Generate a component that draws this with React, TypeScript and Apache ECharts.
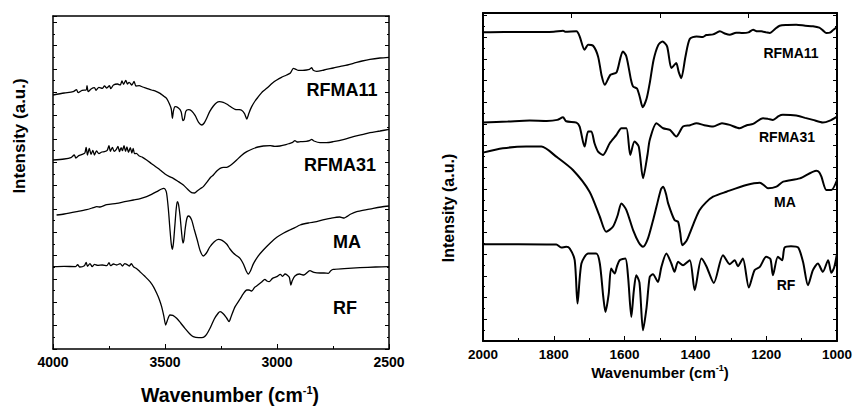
import React, { useEffect, useRef } from "react";
import * as echarts from "echarts";

// ---------- Data (wavenumber, intensity a.u.) ----------
const leftLabels = ["RFMA11", "RFMA31", "MA", "RF"];
const rightLabels = ["RFMA11", "RFMA31", "MA", "RF"];

const leftRFMA11: number[][] = [
  [4000, 76.2], [3950, 76.8], [3910, 77.2], [3895, 77.8], [3888, 76.9], [3870, 77.6], [3852, 77.7], [3848, 79.0],
  [3843, 77.2], [3830, 78.0], [3815, 78.4], [3808, 77.6], [3795, 78.5], [3780, 78.2], [3770, 78.9], [3760, 78.3],
  [3748, 79.0], [3742, 78.1], [3730, 79.2], [3712, 79.5], [3700, 79.2], [3692, 80.4], [3685, 79.4], [3675, 80.6],
  [3668, 79.5], [3660, 80.0], [3648, 79.2], [3638, 80.3], [3630, 78.9], [3615, 79.0], [3600, 78.6], [3582, 78.2],
  [3560, 77.7], [3540, 77.3], [3522, 76.7], [3505, 75.8], [3493, 75.2], [3480, 73.5], [3472, 72.0], [3467, 69.2],
  [3462, 71.5], [3455, 72.7], [3440, 72.3], [3428, 71.2], [3420, 68.5], [3414, 69.0], [3407, 71.3], [3395, 71.8],
  [3381, 71.4], [3365, 70.0], [3350, 68.0], [3336, 67.2], [3325, 67.8], [3314, 69.2], [3300, 71.3], [3284, 72.9],
  [3270, 73.9], [3257, 74.2], [3240, 74.0], [3225, 73.5], [3205, 72.6], [3187, 71.9], [3170, 71.8], [3158, 71.6],
  [3145, 70.6], [3135, 69.0], [3125, 70.8], [3113, 72.7], [3098, 74.4], [3083, 75.7], [3065, 77.2], [3046, 78.2],
  [3020, 79.8], [3001, 80.7], [2980, 81.5], [2957, 82.2], [2940, 82.8], [2927, 84.2], [2915, 83.9], [2905, 83.6],
  [2885, 83.6], [2868, 83.7], [2855, 83.9], [2845, 84.4], [2838, 83.6], [2823, 83.3], [2790, 83.7], [2749, 84.3],
  [2700, 85.0], [2659, 85.7], [2620, 86.4], [2585, 86.9], [2540, 87.3], [2500, 87.5],
];

const leftRFMA31: number[][] = [
  [4000, 56.7], [3950, 57.0], [3920, 57.4], [3905, 58.2], [3898, 57.3], [3885, 58.0], [3870, 58.4], [3858, 58.8],
  [3852, 60.5], [3846, 58.2], [3838, 60.2], [3830, 58.4], [3822, 59.6], [3815, 58.2], [3806, 59.4], [3795, 58.6],
  [3782, 59.1], [3770, 59.2], [3758, 59.6], [3750, 61.0], [3744, 59.3], [3735, 60.5], [3727, 59.3], [3718, 59.8],
  [3710, 60.8], [3703, 59.2], [3696, 60.4], [3690, 59.5], [3683, 61.0], [3676, 59.3], [3670, 60.6], [3663, 59.0],
  [3655, 60.4], [3648, 58.8], [3642, 60.2], [3636, 58.6], [3628, 58.7], [3615, 57.9], [3600, 57.5], [3582, 56.7],
  [3560, 55.6], [3540, 54.6], [3522, 53.7], [3500, 52.5], [3480, 51.7], [3463, 51.2], [3440, 50.2], [3418, 49.2],
  [3400, 48.0], [3381, 46.9], [3368, 46.8], [3355, 47.5], [3340, 48.2], [3329, 48.7], [3310, 50.3], [3295, 51.6],
  [3284, 52.2], [3270, 53.3], [3254, 54.2], [3238, 54.5], [3225, 54.5], [3217, 54.7], [3200, 55.5], [3180, 56.7],
  [3160, 58.0], [3135, 59.2], [3110, 60.0], [3085, 60.6], [3061, 60.9], [3030, 61.0], [3010, 60.8], [2987, 60.9],
  [2960, 61.3], [2943, 61.7], [2930, 62.0], [2920, 62.5], [2910, 62.1], [2895, 62.2], [2870, 62.3], [2855, 62.5],
  [2845, 62.9], [2835, 62.4], [2808, 61.9], [2780, 61.9], [2749, 62.2], [2700, 62.9], [2659, 63.7], [2620, 64.3],
  [2585, 64.9], [2540, 65.4], [2500, 65.9],
];

const leftMA: number[][] = [
  [3984, 40.2], [3950, 40.5], [3894, 41.2], [3850, 41.8], [3820, 42.4], [3805, 42.7], [3790, 42.6], [3760, 43.3],
  [3716, 43.7], [3680, 44.2], [3641, 44.7], [3610, 45.1], [3582, 45.7], [3560, 46.4], [3537, 47.2], [3515, 48.0],
  [3507, 48.2], [3500, 48.0], [3493, 46.8], [3485, 42.0], [3478, 36.0], [3472, 31.5], [3467, 29.9], [3462, 32.0],
  [3456, 37.0], [3450, 42.0], [3445, 44.2], [3440, 43.5], [3433, 40.0], [3426, 35.0], [3420, 31.8], [3416, 32.5],
  [3410, 36.0], [3403, 39.0], [3396, 39.9], [3388, 39.6], [3380, 38.5], [3370, 36.0], [3356, 32.7], [3343, 29.5],
  [3329, 27.9], [3315, 28.8], [3300, 30.6], [3280, 32.2], [3262, 32.9], [3245, 32.6], [3225, 31.5], [3210, 30.0],
  [3194, 28.7], [3180, 28.0], [3165, 27.2], [3150, 25.5], [3138, 23.5], [3128, 22.5], [3118, 23.5], [3105, 25.6],
  [3085, 27.8], [3061, 29.7], [3030, 31.8], [3001, 33.5], [2970, 34.8], [2943, 35.7], [2920, 36.4], [2897, 37.2],
  [2860, 37.8], [2823, 38.2], [2790, 38.8], [2763, 39.2], [2720, 39.6], [2700, 39.3], [2689, 39.7], [2670, 40.5],
  [2644, 41.2], [2600, 41.8], [2570, 42.2], [2535, 42.6], [2500, 42.9],
];

const leftRF: number[][] = [
  [4000, 24.7], [3950, 24.8], [3900, 24.7], [3890, 25.3], [3880, 24.6], [3860, 25.0], [3852, 26.0], [3846, 24.8],
  [3835, 25.6], [3825, 24.7], [3815, 25.4], [3800, 25.1], [3780, 25.2], [3760, 25.0], [3750, 25.9], [3743, 25.0],
  [3730, 25.5], [3715, 25.2], [3700, 25.6], [3690, 24.9], [3680, 25.6], [3671, 25.4], [3660, 24.9], [3650, 25.6],
  [3641, 24.7], [3625, 24.0], [3612, 23.2], [3590, 21.8], [3567, 20.2], [3550, 18.5], [3537, 16.7], [3525, 14.8],
  [3515, 12.7], [3505, 9.8], [3497, 7.2], [3490, 8.5], [3478, 10.2], [3465, 10.1], [3448, 9.2], [3430, 7.8],
  [3411, 6.2], [3390, 4.6], [3374, 3.7], [3350, 3.4], [3329, 3.5], [3315, 4.3], [3299, 6.2], [3280, 9.0],
  [3262, 10.8], [3254, 11.2], [3240, 10.6], [3225, 9.3], [3214, 8.2], [3205, 9.7], [3187, 12.7], [3165, 15.0],
  [3150, 16.6], [3135, 17.7], [3125, 17.7], [3113, 17.4], [3100, 18.5], [3091, 18.9], [3070, 20.0], [3054, 20.9],
  [3045, 20.4], [3035, 20.2], [3020, 21.2], [3001, 21.7], [2985, 22.4], [2975, 21.8], [2964, 22.5], [2955, 22.2],
  [2945, 21.5], [2938, 19.2], [2932, 20.5], [2920, 21.9], [2900, 22.5], [2880, 22.2], [2853, 23.5], [2835, 23.0],
  [2808, 22.8], [2790, 22.8], [2771, 22.7], [2760, 23.5], [2749, 23.9], [2700, 24.1], [2630, 24.4], [2560, 24.6],
  [2500, 24.7],
];

const rightRFMA11: number[][] = [
  [2000, 92.4], [1940, 92.5], [1868, 92.5], [1800, 92.6], [1774, 92.9], [1768, 92.6], [1736, 92.7], [1727, 91.2],
  [1713, 87.2], [1703, 88.7], [1689, 88.4], [1675, 85.2], [1665, 79.5], [1656, 76.7], [1640, 79.7], [1623, 80.4],
  [1612, 84.7], [1605, 86.7], [1595, 85.2], [1582, 78.2], [1576, 76.2], [1565, 75.6], [1557, 73.0], [1549, 70.0],
  [1538, 72.5], [1529, 77.2], [1518, 84.2], [1505, 88.6], [1493, 89.7], [1480, 88.2], [1468, 81.7], [1460, 82.6],
  [1454, 83.2], [1447, 80.5], [1440, 78.7], [1428, 85.2], [1416, 90.4], [1397, 91.2], [1380, 91.0], [1369, 91.6],
  [1350, 91.8], [1331, 92.7], [1315, 92.0], [1303, 91.7], [1285, 92.3], [1266, 92.2], [1250, 92.4], [1237, 93.2],
  [1225, 92.7], [1214, 92.7], [1200, 92.4], [1190, 92.2], [1175, 93.4], [1162, 94.4], [1140, 94.6], [1115, 94.7],
  [1090, 94.4], [1068, 94.2], [1050, 93.8], [1040, 93.0], [1030, 92.2], [1020, 92.3], [1010, 93.2], [1000, 94.0],
];

const rightRFMA31: number[][] = [
  [2000, 65.4], [1930, 65.7], [1868, 66.0], [1820, 65.9], [1790, 66.2], [1774, 67.0], [1765, 65.8], [1736, 65.4],
  [1727, 64.2], [1713, 58.2], [1703, 62.7], [1694, 62.7], [1685, 59.2], [1675, 56.7], [1661, 55.7], [1642, 59.2],
  [1623, 61.7], [1609, 63.7], [1595, 63.7], [1584, 55.7], [1572, 59.7], [1560, 58.2], [1548, 48.7], [1535, 56.0],
  [1529, 60.2], [1510, 65.2], [1491, 63.7], [1472, 63.2], [1454, 61.2], [1435, 64.2], [1415, 64.6], [1397, 65.2],
  [1375, 64.6], [1350, 64.2], [1325, 65.2], [1303, 64.7], [1275, 63.7], [1255, 64.6], [1237, 65.0], [1209, 66.7],
  [1195, 66.5], [1181, 66.2], [1165, 67.3], [1153, 67.7], [1115, 67.5], [1090, 66.8], [1068, 66.2], [1040, 65.4],
  [1020, 66.0], [1000, 67.2],
];

const rightMA: number[][] = [
  [2000, 56.4], [1944, 57.7], [1878, 58.2], [1835, 58.2], [1793, 55.2], [1746, 51.2], [1699, 44.7], [1670, 37.2],
  [1652, 32.7], [1633, 34.2], [1620, 37.5], [1609, 41.2], [1595, 39.2], [1576, 33.2], [1560, 29.5], [1548, 28.2],
  [1535, 30.4], [1520, 36.0], [1510, 40.2], [1497, 45.5], [1491, 46.2], [1483, 44.0], [1477, 41.2], [1459, 36.2],
  [1449, 35.7], [1443, 32.5], [1437, 28.7], [1425, 30.0], [1416, 32.2], [1400, 36.5], [1388, 39.2], [1370, 41.5],
  [1350, 43.2], [1312, 44.7], [1256, 46.7], [1218, 47.4], [1205, 46.5], [1195, 45.7], [1171, 46.2], [1152, 47.7],
  [1105, 48.7], [1058, 51.0], [1050, 50.5], [1044, 49.2], [1030, 45.2], [1016, 45.2], [1000, 48.2],
];

const rightRF: number[][] = [
  [2000, 29.0], [1900, 29.0], [1793, 28.9], [1779, 28.0], [1765, 28.2], [1755, 27.7], [1741, 24.2], [1733, 11.2],
  [1722, 23.2], [1703, 26.2], [1680, 26.2], [1670, 23.2], [1660, 13.0], [1654, 8.7], [1645, 14.0], [1638, 21.7],
  [1628, 20.2], [1622, 22.2], [1614, 24.2], [1598, 24.7], [1590, 19.0], [1581, 7.2], [1574, 15.0], [1567, 19.7],
  [1558, 17.5], [1548, 3.2], [1538, 10.0], [1529, 19.2], [1520, 20.0], [1506, 17.7], [1496, 22.2], [1482, 26.2],
  [1468, 23.2], [1459, 20.7], [1449, 23.7], [1435, 22.7], [1416, 24.2], [1402, 15.2], [1383, 24.7], [1369, 22.4],
  [1348, 17.4], [1322, 25.7], [1303, 23.0], [1289, 24.2], [1280, 22.4], [1266, 24.7], [1249, 16.0], [1233, 21.2],
  [1218, 22.2], [1200, 25.2], [1188, 24.5], [1181, 19.7], [1167, 25.2], [1155, 24.2], [1148, 28.0], [1130, 28.4],
  [1110, 28.0], [1096, 23.7], [1082, 16.7], [1068, 21.2], [1054, 23.2], [1040, 20.7], [1025, 24.2], [1016, 20.4],
  [1008, 22.0], [1000, 26.2],
];

const leftTicks = [4000, 3500, 3000, 2500];
const rightTicks = [2000, 1800, 1600, 1400, 1200, 1000];

const FONT = '"Liberation Sans", Arial, sans-serif';

export default function App() {
  const ref = useRef<HTMLDivElement>(null);

  useEffect(() => {
    document.body.style.margin = "0";
    if (!ref.current) return;
    const chart = echarts.init(ref.current, null, { renderer: "svg" });

    const axisLine = (w: number) => ({ show: true, onZero: false, lineStyle: { color: "#000", width: w } });

    const xBase = (grid: number, min: number, max: number, interval: number, pos: string, labels: boolean, w: number, minorSplit: number, labelSize: number, tickLen: number) => ({
      type: "value",
      gridIndex: grid,
      min,
      max,
      interval,
      inverse: true,
      position: pos,
      axisLine: axisLine(w),
      axisTick: { show: tickLen > 0, inside: true, length: tickLen, lineStyle: { color: "#000", width: 1 } },
      minorTick: { show: minorSplit > 0, splitNumber: minorSplit || 1, length: 3, lineStyle: { color: "#000", width: 1 } },
      axisLabel: {
        show: labels,
        color: "#000",
        fontFamily: FONT,
        fontWeight: "bold",
        fontSize: labelSize,
        margin: 6,
        formatter: (v: number) => String(v),
      },
      splitLine: { show: false },
      minorSplitLine: { show: false },
    });

    const yBase = (grid: number, max: number, interval: number, pos: string, w: number) => ({
      type: "value",
      gridIndex: grid,
      min: 0,
      max,
      interval,
      position: pos,
      axisLine: axisLine(w),
      axisTick: { show: true, inside: true, length: 4, lineStyle: { color: "#000", width: 1 } },
      minorTick: { show: true, splitNumber: 2, length: 2, lineStyle: { color: "#000", width: 1 } },
      axisLabel: { show: false },
      splitLine: { show: false },
    });

    const line = (data: number[][], xi: number, yi: number, w: number) => ({
      type: "line",
      xAxisIndex: xi,
      yAxisIndex: yi,
      data,
      showSymbol: false,
      symbol: "none",
      smooth: 0.25,
      lineStyle: { color: "#000", width: w },
      silent: true,
    });

    const label = (text: string, x: number, y: number, size: number) => ({
      type: "text",
      x,
      y,
      style: {
        text,
        fill: "#000",
        fontFamily: FONT,
        fontWeight: "bold",
        fontSize: size,
        textAlign: "center",
        textVerticalAlign: "middle",
      },
    });

    const titleX = (x: number, y: number, size: number, sup: number, lift: number) => ({
      type: "text",
      x,
      y,
      style: {
        text: "{a|Wavenumber (cm}{s|-1}{a|)}",
        fill: "#000",
        textAlign: "center",
        textVerticalAlign: "middle",
        rich: {
          a: { fontFamily: FONT, fontWeight: "bold", fontSize: size, fill: "#000" },
          s: { fontFamily: FONT, fontWeight: "bold", fontSize: sup, fill: "#000", padding: [0, 0, lift, 0] },
        },
      },
    });

    const titleY = (x: number, y: number, size: number) => ({
      type: "text",
      x,
      y,
      rotation: Math.PI / 2,
      style: {
        text: "Intensity (a.u.)",
        fill: "#000",
        fontFamily: FONT,
        fontWeight: "bold",
        fontSize: size,
        textAlign: "center",
        textVerticalAlign: "middle",
      },
    });

    const leftLabelPos = [[342, 90], [340, 165], [347, 242], [345, 308]];
    const rightLabelPos = [[791, 53], [787, 137], [785, 202], [786, 285]];

    chart.setOption({
      animation: false,
      grid: [
        { left: 53, top: 16, width: 336, height: 333, containLabel: false },
        { left: 483, top: 13, width: 354, height: 328, containLabel: false },
      ],
      xAxis: [
        xBase(0, leftTicks[leftTicks.length - 1], leftTicks[0], leftTicks[0] - leftTicks[1], "bottom", true, 1.5, 2, 14, 5),
        xBase(0, leftTicks[leftTicks.length - 1], leftTicks[0], leftTicks[0] - leftTicks[1], "top", false, 1.5, 0, 14, 0),
        xBase(1, rightTicks[rightTicks.length - 1], rightTicks[0], rightTicks[0] - rightTicks[1], "bottom", true, 2, 2, 13.5, 5),
        xBase(1, rightTicks[rightTicks.length - 1], rightTicks[0], 250, "top", false, 2, 0, 13, 5),
      ],
      yAxis: [
        yBase(0, 99.9, 7, "left", 1.5),
        yBase(0, 99.9, 7, "right", 1.5),
        yBase(1, 98.2, 6.5, "left", 2),
        yBase(1, 98.2, 6.5, "right", 2),
      ],
      series: [
        line(leftRFMA11, 0, 0, 1.3),
        line(leftRFMA31, 0, 0, 1.3),
        line(leftMA, 0, 0, 1.3),
        line(leftRF, 0, 0, 1.3),
        line(rightRFMA11, 2, 2, 2),
        line(rightRFMA31, 2, 2, 2),
        line(rightMA, 2, 2, 2),
        line(rightRF, 2, 2, 2),
      ],
      graphic: [
        ...leftLabels.map((t, i) => label(t, leftLabelPos[i][0], leftLabelPos[i][1], 18)),
        ...rightLabels.map((t, i) => label(t, rightLabelPos[i][0], rightLabelPos[i][1], 14)),
        titleX(230, 395, 19.5, 11, 10),
        titleX(660, 372, 15, 9, 8),
        titleY(19, 136, 17),
        titleY(448, 208, 16),
      ],
    });

    return () => chart.dispose();
  }, []);

  return <div ref={ref} style={{ width: 856, height: 408 }} />;
}
